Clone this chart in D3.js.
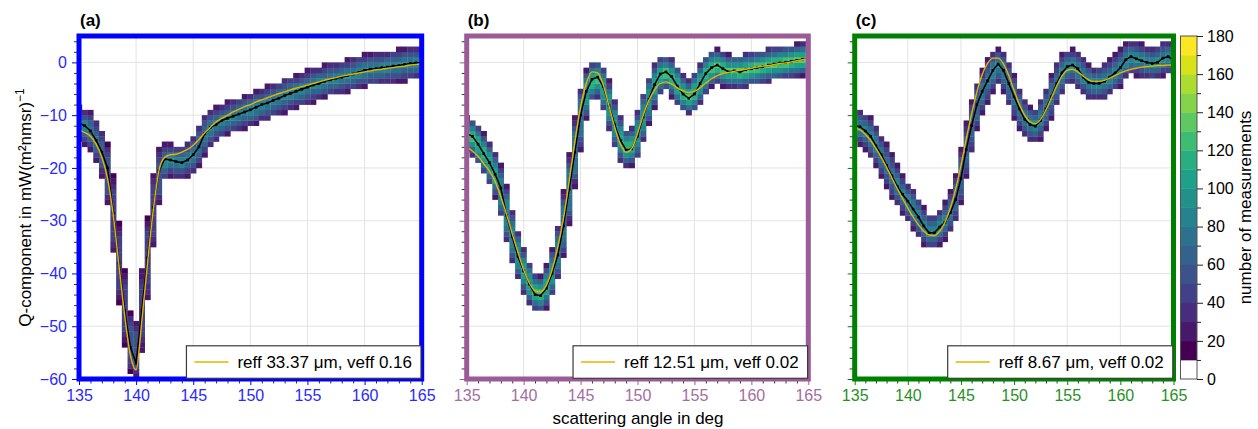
<!DOCTYPE html>
<html>
<head>
<meta charset="utf-8">
<script src="https://cdn.jsdelivr.net/npm/d3@7/dist/d3.min.js"></script>
<style>
  body { margin: 0; background: #fff; }
  text { font-family: "Liberation Sans", Arial, Helvetica, sans-serif; }
</style>
</head>
<body>
<svg id="chart" width="1258" height="429"></svg>
<script>
// sampling angles (deg) used for every panel
const angles = [135,135.5,136,136.5,137,137.5,138,138.5,139,139.5,140,140.5,141,141.5,142,142.5,
  143,143.5,144,144.5,145,145.5,146,146.5,147,147.5,148,148.5,149,149.5,150,150.5,151,151.5,
  152,152.5,153,153.5,154,154.5,155,155.5,156,156.5,157,157.5,158,158.5,159,159.5,160,160.5,
  161,161.5,162,162.5,163,163.5,164,164.5,165];

// (a) measured mean and fitted curve
const meanA = [-11.5,-12,-13,-14.8,-17,-20,-28.5,-38,-47,-54,-57,-47,-37,-27.5,-20.5,-18.3,
  -18.5,-18.8,-19,-18.5,-17.5,-16,-13.5,-12.3,-11.8,-11,-10.6,-10.2,-9.8,-9.4,-9,-8.5,-8,-7.7,
  -7.2,-6.8,-6.3,-5.9,-5.5,-5.1,-4.7,-4.3,-4,-3.6,-3.3,-3,-2.8,-2.5,-2.2,-1.9,-1.5,-1.3,
  -1.2,-1,-0.9,-0.7,-0.6,-0.4,-0.2,-0.1,0];
const fitA = [-12.8,-13.3,-14,-15.5,-18,-22,-29,-38.5,-48,-55.5,-58.3,-49,-38,-28,-20.5,-18,
  -17.5,-17.4,-17,-16.5,-15.7,-14.6,-13.4,-12.3,-11.3,-10.6,-10,-9.4,-8.9,-8.4,-8,-7.5,-7.1,-6.7,
  -6.3,-5.9,-5.6,-5.2,-4.9,-4.6,-4.3,-4,-3.7,-3.4,-3.1,-2.9,-2.6,-2.4,-2.2,-2,-1.8,-1.6,
  -1.4,-1.3,-1.1,-1,-0.8,-0.7,-0.5,-0.4,-0.3];

// (b)
const meanB = [-13.5,-14,-15.5,-17.3,-19,-21.2,-23.8,-29,-33,-36.8,-39.5,-42,-44,-44.2,-42.8,-40,
  -36.5,-31,-24,-17,-10,-5.5,-3.2,-2.8,-4.6,-8.2,-11.8,-14.8,-16.6,-16.4,-14,-10.3,-7,-4.2,
  -2.2,-1.8,-2.7,-4.5,-6,-6.8,-6,-4,-2.1,-1,-0.5,-1.2,-1.8,-1.6,-1.8,-1.4,-1.2,-1,
  -0.8,-0.5,-0.3,-0.1,0,0.2,0.4,0.6,0.7];
const fitB = [-16,-16.8,-17.8,-19.2,-20.6,-22.6,-25.5,-28.8,-32.5,-36,-39.3,-41.8,-43.3,-43.5,-42.2,-39.3,
  -35,-29.5,-22.5,-15,-8.5,-4,-1.8,-2,-4.3,-8.3,-12.3,-15.5,-17,-16.3,-13.5,-10,-7.2,-5.2,
  -4,-3.7,-4.1,-4.8,-5.4,-5.7,-5.5,-4.8,-3.9,-3.1,-2.5,-2.1,-1.9,-1.7,-1.5,-1.3,-1.1,-0.9,
  -0.7,-0.6,-0.4,-0.2,-0.1,0.1,0.3,0.5,0.7];

// (c)
const meanC = [-12,-12.2,-13,-14,-15.8,-17.5,-19.5,-21.5,-23.5,-25,-26.3,-27.8,-29.3,-31,-32.3,-32.3,
  -31.2,-30.3,-28.5,-26,-22,-16.5,-12,-8,-5.5,-3.5,-1.5,-0.3,-1.5,-4,-6.5,-8.8,-10.8,-11.8,
  -12.1,-11,-8.8,-6.5,-4,-2,-0.8,-0.5,-1.2,-2.8,-3.8,-4,-4,-3.6,-2.8,-2,-1,0.5,
  1.1,0.7,0.3,0,-0.2,0,0.8,1.1,0.4];
const fitC = [-12.3,-12.8,-13.6,-14.8,-16.3,-18,-19.9,-21.9,-23.9,-25.8,-27.6,-29.3,-30.8,-32,-32.7,-32.8,
  -32,-30.3,-27.6,-24,-19.5,-14.5,-9.8,-5.6,-2.3,-0.2,0.8,0.8,-0.3,-2.5,-5.3,-8,-10,-11.3,
  -11.6,-10.8,-9,-6.8,-4.5,-2.6,-1.5,-1.3,-1.8,-2.6,-3.3,-3.6,-3.6,-3.4,-3,-2.5,-2,-1.6,
  -1.3,-1.1,-0.9,-0.8,-0.7,-0.6,-0.6,-0.5,-0.5];

const panelTags = ["(a)", "(b)", "(c)"];
const legendTexts = ["reff 33.37 μm, veff 0.16", "reff 12.51 μm, veff 0.02", "reff 8.67 μm, veff 0.02"];
const peakCounts = [95, 140, 100];      // typical count in the band centre
const xMajor = [135, 140, 145, 150, 155, 160, 165];
const yMajor = [-60, -50, -40, -30, -20, -10, 0];
const cbTicks = [0, 20, 40, 60, 80, 100, 120, 140, 160, 180];
const countSteps = [10, 20, 30, 40, 50, 60, 70, 80, 90, 100, 110, 120, 130, 140, 150, 160, 170];

const panels = [
  { mean: meanA, fit: fitA, x0: 79, x1: 421.7, frame: "#0000ff", label: "#2a2aff", yLabels: true },
  { mean: meanB, fit: fitB, x0: 466.7, x1: 808.3, frame: "#9b5b97", label: "#a46ea1", yLabels: false },
  { mean: meanC, fit: fitC, x0: 854.7, x1: 1173.5, frame: "#008000", label: "#279127", yLabels: false }
];
const Y0 = 36, Y1 = 379;
const HALF = 3, BIN = 0.5;

const svg = d3.select("#chart");
const color = d3.scaleThreshold()
  .domain(countSteps)
  .range(["#ffffff"].concat(countSteps.map((d, i) => d3.interpolateViridis(i / (countSteps.length - 1)))));

// histogram cells around the measured curve of one panel
function makeCells(mean, peak) {
  const out = [];
  const n = mean.length;
  for (let i = 0; i < n; i++) {
    const e0 = i > 0 ? (mean[i - 1] + mean[i]) / 2 : mean[i];
    const e1 = i < n - 1 ? (mean[i] + mean[i + 1]) / 2 : mean[i];
    const lo = Math.min(e0, e1, mean[i]), hi = Math.max(e0, e1, mean[i]);
    const spread = 2 * HALF / (hi - lo + 2 * HALF);
    for (let k = Math.floor(lo - HALF); k < Math.ceil(hi + HALF); k++) {
      const c = k + 0.5;
      const d = c < lo ? lo - c : c > hi ? c - hi : 0;
      if (d > HALF) continue;
      const w = 1 - d / (HALF + 0.5);
      out.push({ a0: angles[i] - BIN / 2, a1: angles[i] + BIN / 2, v0: k, v1: k + 1,
                 n: 12 + (peak - 12) * w * spread });
    }
  }
  return out;
}

panels.forEach((p, pi) => {
  const x = d3.scaleLinear().domain([135, 165]).range([p.x0, p.x1]);
  const y = d3.scaleLinear().domain([-60, 5]).range([Y1, Y0]);
  const g = svg.append("g");

  g.append("clipPath").attr("id", "clip" + pi)
    .append("rect").attr("x", p.x0).attr("y", Y0).attr("width", p.x1 - p.x0).attr("height", Y1 - Y0);

  // grid
  g.selectAll(".gx").data(xMajor).enter().append("line")
    .attr("x1", d => x(d)).attr("x2", d => x(d)).attr("y1", Y0).attr("y2", Y1)
    .attr("stroke", "#e3e3e3").attr("stroke-width", 1);
  g.selectAll(".gy").data(yMajor).enter().append("line")
    .attr("x1", p.x0).attr("x2", p.x1).attr("y1", d => y(d)).attr("y2", d => y(d))
    .attr("stroke", "#e3e3e3").attr("stroke-width", 1);

  const plot = g.append("g").attr("clip-path", `url(#clip${pi})`);

  plot.selectAll("rect.cell").data(makeCells(p.mean, peakCounts[pi])).enter().append("rect")
    .attr("class", "cell")
    .attr("x", d => x(d.a0)).attr("width", d => x(d.a1) - x(d.a0) + 0.3)
    .attr("y", d => y(d.v1)).attr("height", d => y(d.v0) - y(d.v1) + 0.3)
    .attr("fill", d => color(d.n));

  const pts = angles.map((a, i) => [a, p.mean[i]]);
  plot.append("path")
    .attr("d", d3.line().x(d => x(d[0])).y(d => y(d[1]))(pts))
    .attr("fill", "none").attr("stroke", "#000").attr("stroke-width", 1.5);
  plot.selectAll("rect.mk").data(pts).enter().append("rect")
    .attr("class", "mk")
    .attr("x", d => x(d[0]) - 1.3).attr("y", d => y(d[1]) - 1.3)
    .attr("width", 2.6).attr("height", 2.6).attr("fill", "#000");

  plot.append("path")
    .attr("d", d3.line().x((d, i) => x(angles[i])).y(d => y(d)).curve(d3.curveMonotoneX)(p.fit))
    .attr("fill", "none").attr("stroke", "#e8b000").attr("stroke-width", 1.4);

  // axes
  const xMinor = d3.range(135, 166, 1).filter(d => d % 5 !== 0);
  const yMinor = d3.range(-60, 5, 2).filter(d => d % 10 !== 0);

  const axB = g.append("g").attr("transform", `translate(0,${Y1})`)
    .call(d3.axisBottom(x).tickValues(xMajor).tickSize(6).tickPadding(5).tickFormat(d3.format("d")));
  axB.select(".domain").remove();
  axB.selectAll("line").attr("stroke", p.frame);
  axB.selectAll("text").attr("fill", p.label).attr("font-size", 16);

  const axBm = g.append("g").attr("transform", `translate(0,${Y1})`)
    .call(d3.axisBottom(x).tickValues(xMinor).tickSize(4.5).tickFormat(""));
  axBm.select(".domain").remove();
  axBm.selectAll("line").attr("stroke", "#333");

  const axL = g.append("g").attr("transform", `translate(${p.x0},0)`)
    .call(d3.axisLeft(y).tickValues(yMajor).tickSize(7).tickPadding(5)
      .tickFormat(p.yLabels ? (d => d3.format("d")(d).replace("-", "\u2212")) : ""));
  axL.select(".domain").remove();
  axL.selectAll("line").attr("stroke", p.frame);
  axL.selectAll("text").attr("fill", p.label).attr("font-size", 16);

  const axLm = g.append("g").attr("transform", `translate(${p.x0},0)`)
    .call(d3.axisLeft(y).tickValues(yMinor).tickSize(5).tickFormat(""));
  axLm.select(".domain").remove();
  axLm.selectAll("line").attr("stroke", "#333");

  // frame
  g.append("rect").attr("x", p.x0).attr("y", Y0).attr("width", p.x1 - p.x0).attr("height", Y1 - Y0)
    .attr("fill", "none").attr("stroke", p.frame).attr("stroke-width", 5);

  g.append("text").attr("x", p.x0 + 1).attr("y", 26)
    .attr("font-size", 17).attr("font-weight", "bold").attr("fill", "#000")
    .text(panelTags[pi]);

  // legend
  const lg = g.append("g");
  const box = lg.append("rect");
  const txt = lg.append("text").attr("font-size", 17).attr("fill", "#000").text(legendTexts[pi]);
  const tw = txt.node().getComputedTextLength();
  const bw = tw + 60, bh = 32.5;
  const bx = p.x1 - bw - 0.7, by = Y1 - bh - 0.7;
  box.attr("x", bx).attr("y", by).attr("width", bw).attr("height", bh)
    .attr("fill", "#fff").attr("stroke", "#3a3a3a").attr("stroke-width", 1.2);
  lg.append("line").attr("x1", bx + 8).attr("x2", bx + 42).attr("y1", by + bh / 2).attr("y2", by + bh / 2)
    .attr("stroke", "#e8b000").attr("stroke-width", 1.4);
  txt.attr("x", bx + 51).attr("y", by + bh / 2 + 6);
});

// y label
svg.append("text")
  .attr("transform", `translate(31,${(Y0 + Y1) / 2}) rotate(-90)`)
  .attr("text-anchor", "middle").attr("font-size", 17).attr("fill", "#000")
  .call(t => {
    t.append("tspan").text("Q-component in mW(m²nmsr)");
    t.append("tspan").attr("font-size", 12).attr("dy", -7).text("\u22121");
  });

// x label
svg.append("text").attr("x", 638).attr("y", 424).attr("text-anchor", "middle")
  .attr("font-size", 17).attr("fill", "#000").text("scattering angle in deg");

// colorbar
const cb = svg.append("g");
const cy = d3.scaleLinear().domain([0, 180]).range([Y1, Y0]);
const CBX = 1180.5, CBW = 16.5;
const bands = [0].concat(countSteps);
cb.selectAll("rect").data(bands).enter().append("rect")
  .attr("x", CBX).attr("width", CBW)
  .attr("y", d => cy(d + 10)).attr("height", d => cy(d) - cy(d + 10) + 0.4)
  .attr("fill", d => color(d + 5));
cb.append("rect").attr("x", CBX).attr("y", Y0).attr("width", CBW).attr("height", Y1 - Y0)
  .attr("fill", "none").attr("stroke", "#555").attr("stroke-width", 1);
const cbAx = cb.append("g").attr("transform", `translate(${CBX + CBW},0)`)
  .call(d3.axisRight(cy).tickValues(cbTicks).tickSize(6).tickPadding(4));
cbAx.select(".domain").remove();
cbAx.selectAll("line").attr("stroke", "#222");
cbAx.selectAll("text").attr("fill", "#000").attr("font-size", 16);
const cbMin = cb.append("g").attr("transform", `translate(${CBX + CBW},0)`)
  .call(d3.axisRight(cy).tickValues(d3.range(10, 180, 20)).tickSize(4).tickFormat(""));
cbMin.select(".domain").remove();
cbMin.selectAll("line").attr("stroke", "#222");

svg.append("text")
  .attr("transform", `translate(1251,${(Y0 + Y1) / 2}) rotate(-90)`)
  .attr("text-anchor", "middle").attr("font-size", 17).attr("fill", "#000")
  .text("number of measurements");
</script>
</body>
</html>
